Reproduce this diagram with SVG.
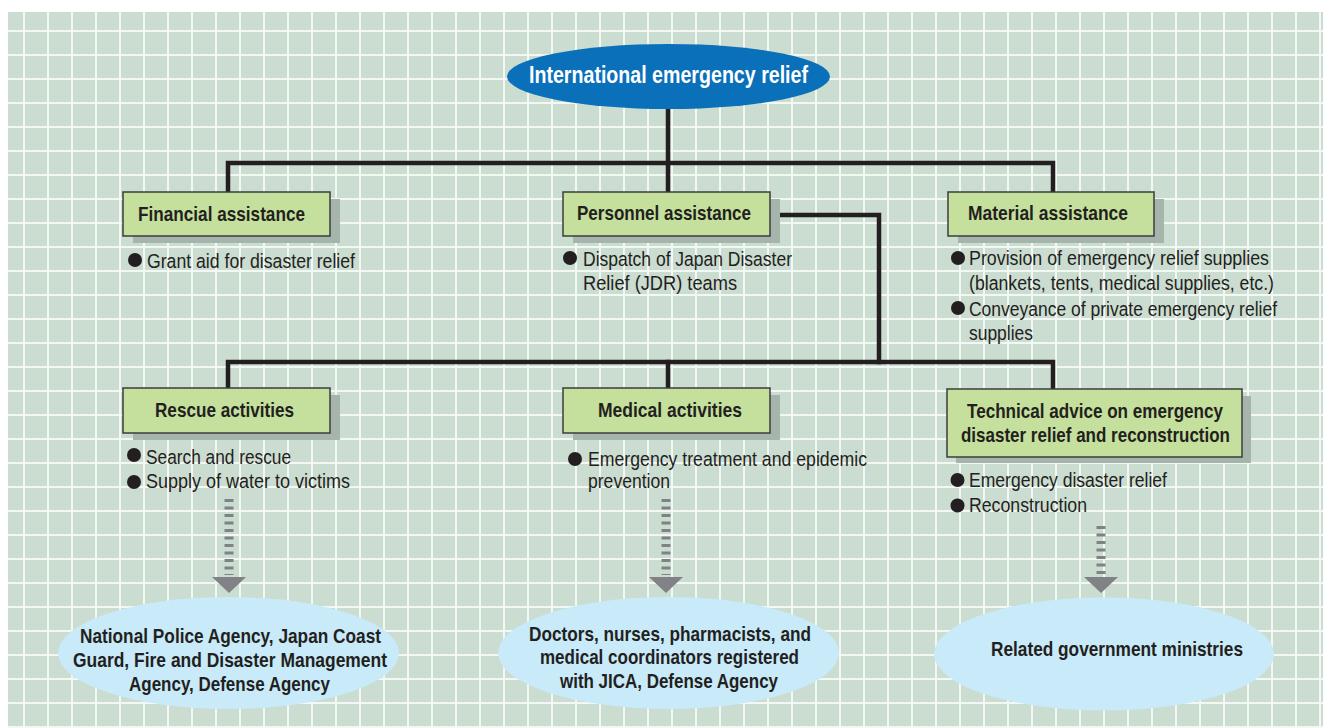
<svg xmlns="http://www.w3.org/2000/svg" width="1323" height="728" viewBox="0 0 1323 728">
<defs>
<pattern id="grid" patternUnits="userSpaceOnUse" x="-1" y="6" width="24" height="24">
<rect x="0" y="0" width="2" height="24" fill="#f4f8f4"/>
<rect x="0" y="0" width="24" height="2" fill="#f4f8f4"/>
</pattern>
</defs>
<style>
.bg{fill:#cbdcd0}
.shadow{fill:#a6b5ac}
.box{fill:#c5e09c;stroke:#3d3d3d;stroke-width:1.5}
.bt{font-family:"Liberation Sans",Arial,sans-serif;font-weight:bold;font-size:21px;fill:#231f20}
.tx{font-family:"Liberation Sans",Arial,sans-serif;font-size:20.5px;fill:#231f20}
.sm{font-size:19.6px}
.dot{fill:#231f20}
.conn{fill:none;stroke:#231f20;stroke-width:4.5;stroke-linejoin:miter;stroke-linecap:square}
.dash{stroke:#808285;stroke-width:9;stroke-dasharray:3 4.5;fill:none}
.tri{fill:#808285}
.ell{fill:#c8eaf9}
</style>
<rect class="bg" x="8" y="12" width="1315" height="716"/>
<rect x="8" y="12" width="1315" height="716" fill="url(#grid)"/>

<g id="connectors">
<path class="conn" d="M668,109 V190"/>
<path class="conn" d="M228,190 V163 H1053 V190"/>
<path class="conn" d="M772,215 H879 V362"/>
<path class="conn" d="M228,386 V362 H1053 V387"/>
<path class="conn" d="M668,362 V386"/>
<line class="dash" x1="229" y1="499" x2="229" y2="575"/>
<polygon class="tri" points="212,577 246,577 229,593"/>
<line class="dash" x1="666" y1="499" x2="666" y2="575"/>
<polygon class="tri" points="649,577 683,577 666,593"/>
<line class="dash" x1="1101" y1="526" x2="1101" y2="575"/>
<polygon class="tri" points="1084,577 1118,577 1101,593"/>
</g>

<g id="root">
<ellipse cx="668.5" cy="76.5" rx="161.5" ry="32.5" fill="#0a70b9"/>
<text x="529" y="83" textLength="279" lengthAdjust="spacingAndGlyphs" style="font-family:'Liberation Sans',Arial,sans-serif;font-weight:bold;font-size:24px;fill:#ffffff">International emergency relief</text>
</g>

<g id="financial">
<rect class="shadow" x="133" y="199" width="207" height="44"/>
<rect class="box" x="123" y="192" width="207" height="44"/>
<text class="bt" x="138" y="221" textLength="167" lengthAdjust="spacingAndGlyphs">Financial assistance</text>
<circle class="dot" cx="135" cy="260" r="7"/>
<text class="tx" x="147" y="268" textLength="208" lengthAdjust="spacingAndGlyphs">Grant aid for disaster relief</text>
</g>

<g id="personnel">
<rect class="shadow" x="573" y="199" width="207" height="44"/>
<rect class="box" x="563" y="192" width="207" height="44"/>
<text class="bt" x="577" y="220" textLength="174" lengthAdjust="spacingAndGlyphs">Personnel assistance</text>
<circle class="dot" cx="570" cy="258" r="7"/>
<text class="tx" x="583" y="266" textLength="209" lengthAdjust="spacingAndGlyphs">Dispatch of Japan Disaster</text>
<text class="tx" x="583" y="290" textLength="154" lengthAdjust="spacingAndGlyphs">Relief (JDR) teams</text>
</g>

<g id="material">
<rect class="shadow" x="958" y="199" width="206" height="44"/>
<rect class="box" x="948" y="192" width="206" height="44"/>
<text class="bt" x="968" y="220" textLength="160" lengthAdjust="spacingAndGlyphs">Material assistance</text>
<circle class="dot" cx="958" cy="258" r="7"/>
<text class="tx sm" x="969" y="265" textLength="300" lengthAdjust="spacingAndGlyphs">Provision of emergency relief supplies</text>
<text class="tx sm" x="969" y="290" textLength="305" lengthAdjust="spacingAndGlyphs">(blankets, tents, medical supplies, etc.)</text>
<circle class="dot" cx="958" cy="308" r="7"/>
<text class="tx sm" x="969" y="316" textLength="308" lengthAdjust="spacingAndGlyphs">Conveyance of private emergency relief</text>
<text class="tx" x="969" y="340" textLength="64" lengthAdjust="spacingAndGlyphs">supplies</text>
</g>

<g id="rescue">
<rect class="shadow" x="133" y="395" width="207" height="45"/>
<rect class="box" x="123" y="388" width="207" height="45"/>
<text class="bt" x="155" y="417" textLength="139" lengthAdjust="spacingAndGlyphs">Rescue activities</text>
<circle class="dot" cx="134" cy="455" r="7"/>
<text class="tx" x="146" y="464" textLength="145" lengthAdjust="spacingAndGlyphs">Search and rescue</text>
<circle class="dot" cx="134" cy="482" r="7"/>
<text class="tx" x="146" y="488" textLength="204" lengthAdjust="spacingAndGlyphs">Supply of water to victims</text>
</g>

<g id="medical">
<rect class="shadow" x="573" y="395" width="207" height="45"/>
<rect class="box" x="563" y="388" width="207" height="45"/>
<text class="bt" x="598" y="417" textLength="144" lengthAdjust="spacingAndGlyphs">Medical activities</text>
<circle class="dot" cx="575" cy="459" r="7"/>
<text class="tx" x="588" y="466" textLength="279" lengthAdjust="spacingAndGlyphs">Emergency treatment and epidemic</text>
<text class="tx" x="588" y="488" textLength="82" lengthAdjust="spacingAndGlyphs">prevention</text>
</g>

<g id="technical">
<rect class="shadow" x="956" y="396" width="295" height="67"/>
<rect class="box" x="947" y="389" width="295" height="68"/>
<text class="bt" x="967" y="418" textLength="256" lengthAdjust="spacingAndGlyphs">Technical advice on emergency</text>
<text class="bt" x="961" y="442" textLength="269" lengthAdjust="spacingAndGlyphs">disaster relief and reconstruction</text>
<circle class="dot" cx="957.5" cy="480" r="7"/>
<text class="tx" x="969" y="487" textLength="198" lengthAdjust="spacingAndGlyphs">Emergency disaster relief</text>
<circle class="dot" cx="957.5" cy="505.5" r="7"/>
<text class="tx" x="969" y="512" textLength="118" lengthAdjust="spacingAndGlyphs">Reconstruction</text>
</g>

<g id="agencies">
<ellipse class="ell" cx="228.5" cy="653" rx="170.5" ry="56"/>
<text class="bt" x="80" y="643" textLength="301" lengthAdjust="spacingAndGlyphs">National Police Agency, Japan Coast</text>
<text class="bt" x="73" y="667" textLength="314" lengthAdjust="spacingAndGlyphs">Guard, Fire and Disaster Management</text>
<text class="bt" x="129" y="691" textLength="201" lengthAdjust="spacingAndGlyphs">Agency, Defense Agency</text>
</g>

<g id="doctors">
<ellipse class="ell" cx="668.5" cy="653" rx="170.5" ry="56"/>
<text class="bt" x="529" y="641" textLength="282" lengthAdjust="spacingAndGlyphs">Doctors, nurses, pharmacists, and</text>
<text class="bt" x="540" y="664" textLength="259" lengthAdjust="spacingAndGlyphs">medical coordinators registered</text>
<text class="bt" x="560" y="688" textLength="218" lengthAdjust="spacingAndGlyphs">with JICA, Defense Agency</text>
</g>

<g id="ministries">
<ellipse class="ell" cx="1104" cy="654" rx="170" ry="56.5"/>
<text class="bt" x="991" y="656" textLength="252" lengthAdjust="spacingAndGlyphs">Related government ministries</text>
</g>
</svg>
